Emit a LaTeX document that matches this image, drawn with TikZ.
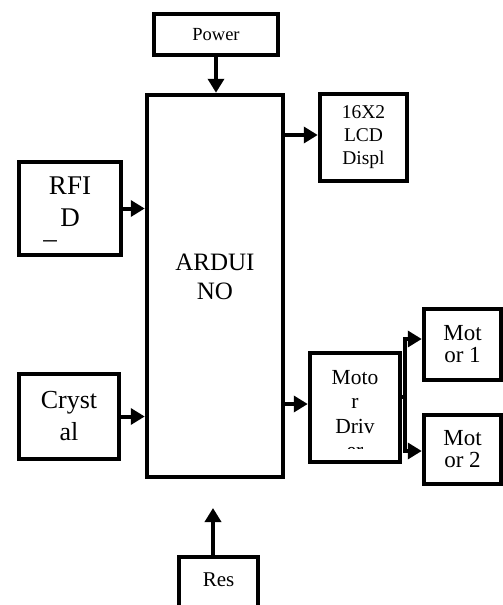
\documentclass[tikz,border=0pt]{standalone}
\usepackage{fontspec}
\setmainfont{Liberation Serif}
\usetikzlibrary{arrows.meta}
\definecolor{ink}{HTML}{000000}
\tikzset{
  blockbox/.style={draw=ink,line width=4.5pt,inner sep=0pt,align=center},
  flow/.style={draw=ink,line width=4pt,-{Triangle[length=14pt,width=16pt]}},
  wire/.style={draw=ink,line width=4pt}
}

\begin{document}
\begin{tikzpicture}[x=1pt,y=-1pt]
\clip (0,0) rectangle (503,605);
\fill[white] (0,0) rectangle (503,605);
% blocks
\node[blockbox,minimum width=124pt,minimum height=41pt,font=\fontsize{18.5}{22}\selectfont] (power) at (216,34.5) {Power};
\node[blockbox,minimum width=136pt,minimum height=382pt] (arduino) at (215,286) {};
\node[align=center,inner sep=0pt,font=\fontsize{25}{29}\selectfont] (arduinotext) at (215,277) {ARDUI\\NO};
\node[blockbox,minimum width=87pt,minimum height=87pt,font=\fontsize{19.5}{23}\selectfont] (lcd) at (363.5,137.5) {16X2\\LCD\\Displ};
\node[blockbox,minimum width=102pt,minimum height=93pt,font=\fontsize{27}{32}\selectfont,text depth=14pt] (rfid) at (70,208.5) {RFI\\D};
\node[inner sep=0pt,anchor=base,font=\fontsize{27}{32}\selectfont] (rfidmark) at (50,238) {\_};
\node[blockbox,minimum width=100pt,minimum height=85pt,font=\fontsize{26}{32}\selectfont] (crystal) at (69,416.5) {Cryst\\al};
\node[blockbox,minimum width=90pt,minimum height=109pt] (driver) at (355,407.5) {};
\begin{scope}
\clip (310,353) rectangle (400,448);
\node[align=center,inner sep=0pt,font=\fontsize{21.5}{24.5}\selectfont] (drivertext) at (355,414) {Moto\\r\\Driv\\er};
\end{scope}
\node[blockbox,minimum width=77pt,minimum height=71pt,font=\fontsize{23}{22}\selectfont] (motorup) at (462.5,344.5) {Mot\\or 1};
\node[blockbox,minimum width=77pt,minimum height=69pt,font=\fontsize{23}{22}\selectfont] (motordown) at (462.5,449.5) {Mot\\or 2};
\node[blockbox,minimum width=79pt,minimum height=66pt,font=\fontsize{21}{25}\selectfont,text depth=20pt] (res) at (218.5,590) {Res};
% connectors
\coordinate (lcdin) at ([yshift=2.5pt]lcd.west);
\coordinate (drivein) at ([yshift=3.5pt]driver.west);
\coordinate (fork) at (405,397);
\coordinate (forkup) at (405,339);
\coordinate (forkdown) at (405,451);
\coordinate (restip) at (213,508);
\draw[flow] (power.south) -- (power.south |- arduino.north);
\draw[flow] (arduino.east |- lcdin) -- (lcdin);
\draw[flow] (rfid.east) -- (rfid.east -| arduino.west);
\draw[flow] (crystal.east) -- (crystal.east -| arduino.west);
\draw[flow] (arduino.east |- drivein) -- (drivein);
\draw[wire] (driver.east |- fork) -- (fork);
\draw[flow] (fork) -- (forkup) -- (forkup -| motorup.west);
\draw[flow] (fork) -- (forkdown) -- (forkdown -| motordown.west);
\draw[flow] (restip |- res.north) -- (restip);
\end{tikzpicture}
\end{document}
